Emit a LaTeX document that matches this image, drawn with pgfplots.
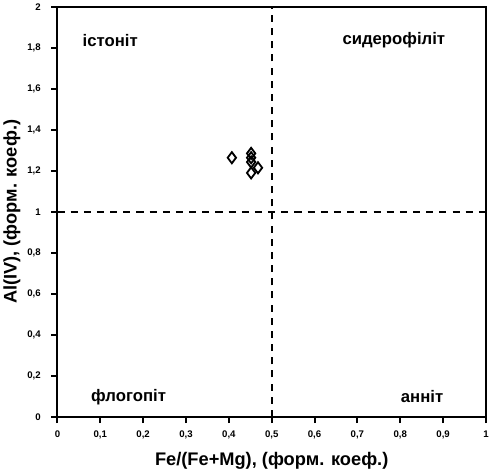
\documentclass[border=0pt]{standalone}
\usepackage{fontspec}
\setmainfont{Liberation Sans}
\usepackage{pgfplots}
\pgfplotsset{compat=1.18}

\begin{document}
\begin{tikzpicture}
\begin{axis}[
    scale only axis,
    width=423pt, height=405pt,
    xmin=0, xmax=1, ymin=0, ymax=2,
    xtick={0,0.1,...,1}, ytick={0,0.2,...,2},
    axis line style={draw=black, line width=2pt},
    xtick style={draw=black, line width=2pt},
    ytick style={draw=black, line width=2pt},
    tick align=outside, major tick length=6pt,
    xtick pos=lower, ytick pos=left,
    /pgf/number format/assume math mode=true,
    /pgf/number format/use comma,
    ticklabel style={font=\bfseries\fontsize{9.5}{11}\selectfont},
    xticklabel style={yshift=-4pt},
    yticklabel style={xshift=-7pt},
    xlabel={Fe/(Fe+Mg), (форм. коеф.)},
    ylabel={Al(IV), (форм. коеф.)},
    label style={font=\bfseries\fontsize{18}{20}\selectfont},
    xlabel style={yshift=-6pt},
    clip=false,
]
\addplot[black, line width=2pt, dash pattern=on 7pt off 6pt] coordinates {(0.5,0) (0.5,2)};
\addplot[black, line width=2pt, dash pattern=on 7pt off 6pt] coordinates {(0,1) (1,1)};
\addplot[only marks, mark=diamond, mark size=5.5pt, line width=1.8pt, black] coordinates {
    (0.407,1.264) (0.452,1.285) (0.452,1.264) (0.452,1.243) (0.468,1.215) (0.452,1.19)
};
\coordinate (ist) at (axis cs:0.123,1.837);
\coordinate (sid) at (axis cs:0.785,1.837);
\coordinate (flo) at (axis cs:0.166,0.099);
\coordinate (ann) at (axis cs:0.851,0.099);
\end{axis}
\node[font=\bfseries\fontsize{16.5}{18}\selectfont] at (ist) {істоніт};
\node[font=\bfseries\fontsize{16.5}{18}\selectfont] at (sid) {сидерофіліт};
\node[font=\bfseries\fontsize{16.5}{18}\selectfont] at (flo) {флогопіт};
\node[font=\bfseries\fontsize{16.5}{18}\selectfont] at (ann) {анніт};
\end{tikzpicture}
\end{document}
